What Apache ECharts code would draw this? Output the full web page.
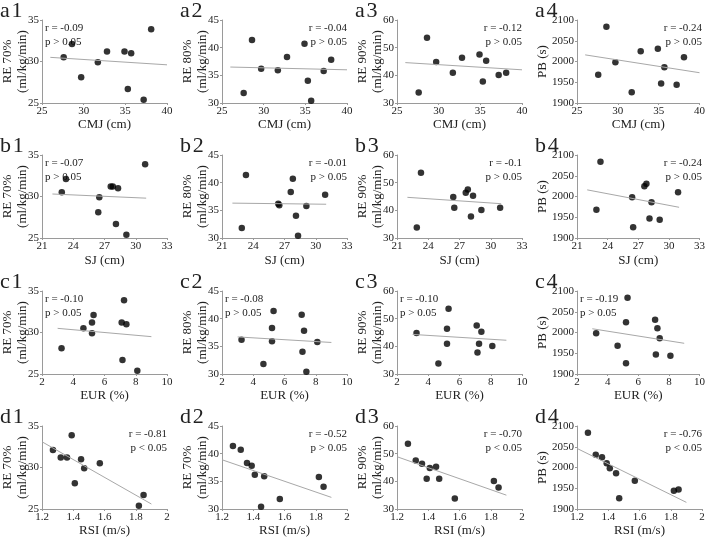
<!DOCTYPE html>
<html>
<head>
<meta charset="utf-8">
<script src="https://cdn.jsdelivr.net/npm/echarts@6/dist/echarts.min.js"></script>
<style>
	body{ margin:0; background:#fff; }
	#main{ width:708px; height:542px; }
</style>
</head>
<body>
<div id="main"></div>
<script type="text/javascript">
// 10 subjects, one value per subject in each list
var cmj  = [27.6, 28.6, 29.7, 31.7, 32.8, 34.9, 35.3, 35.7, 37.2, 38.1];
var sj   = [22.9, 23.3, 26.4, 26.5, 27.6, 27.8, 28.1, 28.3, 29.1, 30.9];
var eur  = [4.65, 5.3, 3.25, 5.2, 5.2, 7.1, 7.15, 7.4, 8.1, 7.25];
var rsi  = [1.57, 1.27, 1.41, 1.47, 1.36, 1.32, 1.85, 1.45, 1.82, 1.39];
var re70 = [30.5, 32.1, 28.1, 29.9, 31.2, 31.2, 26.7, 31.0, 25.4, 33.9];
var re80 = [31.8, 41.4, 36.2, 35.9, 38.3, 40.7, 34.0, 30.4, 35.8, 37.8];
var re90 = [33.8, 53.6, 44.8, 40.9, 46.4, 47.5, 37.8, 45.3, 40.1, 40.9];
var pb   = [1968, 2084, 1998, 1926, 2025, 2031, 1947, 1986, 1944, 2010];

// trend line ends (x range per row, y per panel)
var fitX = [[26, 40], [22, 31], [3, 9], [1.2, 1.9]];
var fitY = [
	[[30.5, 29.6], [36.5, 36.0], [44.6, 42.0], [2016, 1973]],
	[[30.3, 29.8], [36.3, 36.1], [44.7, 42.4], [2016, 1974]],
	[[30.5, 29.5], [36.7, 35.7], [44.3, 42.2], [2009, 1974]],
	[[33.1, 25.6], [38.9, 32.1], [48.9, 35.0], [2046, 1916]]
];
var rText = [
	['r = -0.09', 'r = -0.04', 'r = -0.12', 'r = -0.24'],
	['r = -0.07', 'r = -0.01', 'r = -0.1', 'r = -0.24'],
	['r = -0.10', 'r = -0.08', 'r = -0.10', 'r = -0.19'],
	['r = -0.81', 'r = -0.52', 'r = -0.70', 'r = -0.76']
];
var pText = [
	['p > 0.05', 'p > 0.05', 'p > 0.05', 'p > 0.05'],
	['p > 0.05', 'p > 0.05', 'p > 0.05', 'p > 0.05'],
	['p > 0.05', 'p > 0.05', 'p > 0.05', 'p > 0.05'],
	['p < 0.05', 'p > 0.05', 'p < 0.05', 'p < 0.05']
];
var rowNames = ['a', 'b', 'c', 'd'];
var xNames = ['CMJ (cm)', 'SJ (cm)', 'EUR (%)', 'RSI (m/s)'];
var yNames = [['RE 70%', '(ml/kg/min)'], ['RE 80%', '(ml/kg/min)'], ['RE 90%', '(ml/kg/min)'], ['PB (s)']];
var xMin = [25, 21, 2, 1.2], xMax = [40, 33, 10, 2], xStep = [5, 3, 2, 0.2];
var yMin = [25, 30, 30, 1900], yMax = [35, 45, 60, 2100], yStep = [5, 5, 10, 50];

var rowX = [cmj, sj, eur, rsi];
var colY = [re70, re80, re90, pb];

// layout
var lefts = [42, 222, 397, 577];
var tops = [20, 155, 291, 426];
var W = 125, H = 83;
var xNameGap = [15, 16, 15, 12];
// annotation on left (true) or right side
var noteLeft = [
	[true, false, false, false],
	[true, false, false, false],
	[true, true, true, true],
	[false, false, false, false]
];
var FONT = '"Liberation Serif", "Times New Roman", serif';

function plain(v) { return String(Math.round(v * 100) / 100); }

var chart = echarts.init(document.getElementById('main'));
var grids = [], xAxes = [], yAxes = [], series = [], texts = [];

function addText(x, y, str, size, align, rot) {
	texts.push({
		type: 'text', x: x, y: y, rotation: rot || 0,
		style: {
			text: str, fontFamily: FONT, fontSize: size, fill: '#222',
			textAlign: align, textVerticalAlign: 'middle'
		}
	});
}

for (var r = 0; r < 4; r++) {
	for (var c = 0; c < 4; c++) {
		var k = grids.length;
		var L = lefts[c], T = tops[r];
		grids.push({ left: L, top: T, width: W, height: H });
		var line = { show: true, lineStyle: { color: '#9a9a9a', width: 1 } };
		var tick = { show: true, length: 2, lineStyle: { color: '#9a9a9a' } };
		xAxes.push({
			type: 'value', gridIndex: k,
			min: xMin[r], max: xMax[r], interval: xStep[r],
			name: xNames[r], nameLocation: 'middle', nameGap: xNameGap[r],
			nameTextStyle: { color: '#222', fontFamily: FONT, fontSize: 13 },
			axisLine: line, axisTick: tick, splitLine: { show: false },
			axisLabel: { color: '#222', fontFamily: FONT, fontSize: 11, margin: 3, formatter: plain }
		});
		yAxes.push({
			type: 'value', gridIndex: k,
			min: yMin[c], max: yMax[c], interval: yStep[c],
			axisLine: line, axisTick: tick, splitLine: { show: false },
			axisLabel: { color: '#222', fontFamily: FONT, fontSize: 11, margin: 3, formatter: plain }
		});

		var pts = [];
		for (var i = 0; i < rowX[r].length; i++) pts.push([rowX[r][i], colY[c][i]]);
		series.push({
			type: 'line', xAxisIndex: k, yAxisIndex: k, silent: true,
			symbol: 'none', lineStyle: { color: '#a8a8a8', width: 1 },
			data: [[fitX[r][0], fitY[r][c][0]], [fitX[r][1], fitY[r][c][1]]]
		});
		series.push({
			type: 'scatter', xAxisIndex: k, yAxisIndex: k,
			symbolSize: 6.5, itemStyle: { color: '#000' },
			data: pts
		});

		// y axis name, drawn line by line
		var yn = yNames[c];
		if (r == 3 && c == 1) yn = yNames[0];
		var mid = T + H / 2;
		if (yn.length == 2) {
			addText(L - 34, mid, yn[0], 13, 'center', Math.PI / 2);
			addText(L - 19, mid, yn[1], 13, 'center', Math.PI / 2);
		} else {
			addText(L - 34, mid, yn[0], 13, 'center', Math.PI / 2);
		}

		// panel label
		addText(L - 42, T - 9, rowNames[r] + '\u200A' + (c + 1), 22, 'left');

		// r / p note
		var onLeft = noteLeft[r][c];
		var nx = onLeft ? L + 3 : L + W;
		addText(nx, T + 8, rText[r][c], 11, onLeft ? 'left' : 'right');
		addText(nx, T + 22, pText[r][c], 11, onLeft ? 'left' : 'right');
	}
}

chart.setOption({
	backgroundColor: '#fff',
	animation: false,
	grid: grids,
	xAxis: xAxes,
	yAxis: yAxes,
	series: series,
	graphic: texts
});
</script>
</body>
</html>
